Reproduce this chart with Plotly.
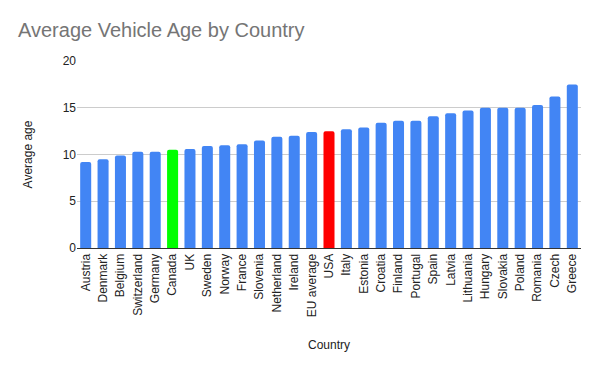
import plotly.graph_objects as go

countries = ["Austria", "Denmark", "Belgium", "Switzerland", "Germany", "Canada", "UK",
             "Sweden", "Norway", "France", "Slovenia", "Netherland", "Ireland", "EU average",
             "USA", "Italy", "Estonia", "Croatia", "Finland", "Portugal", "Spain", "Latvia",
             "Lithuania", "Hungary", "Slovakia", "Poland", "Romania", "Czech", "Greece"]
average_age = [9.2, 9.5, 9.9, 10.3, 10.3, 10.5, 10.6,
               10.9, 11.0, 11.1, 11.5, 11.9, 12.0, 12.4,
               12.5, 12.7, 12.9, 13.4, 13.6, 13.6, 14.1, 14.4,
               14.7, 15.0, 15.0, 15.0, 15.3, 16.2, 17.5]

highlight = {"Canada": "#00ff00", "USA": "#ff0000"}
colors = [highlight.get(c, "#4285f4") for c in countries]

fig = go.Figure(go.Bar(x=countries, y=average_age,
                       marker=dict(color=colors, cornerradius=2, line=dict(width=0))))

fig.update_layout(
    width=600, height=371,
    margin=dict(l=77, r=19, t=61, b=123, autoexpand=False),
    paper_bgcolor="white", plot_bgcolor="white",
    font=dict(family="Arial, Liberation Sans, sans-serif", size=12, color="#222222"),
    title=dict(text="Average Vehicle Age by Country", x=18 / 600, xref="container", xanchor="left",
               y=1 - 30 / 371, yref="container", yanchor="middle",
               font=dict(size=20, color="#757575")),
    bargap=0.366,
    showlegend=False,
)

fig.update_xaxes(tickangle=-90, showgrid=False, showline=True, linecolor="#333333", linewidth=1,
                 ticks="", automargin=False,
                 title=dict(text="Country", standoff=24, font=dict(size=12, color="#222222")))
fig.update_yaxes(range=[0, 20], tickvals=[0, 5, 10, 15, 20], showgrid=True, gridcolor="#cccccc",
                 zeroline=False, showline=False, ticks="", automargin=False,
                 title=dict(text="Average age", standoff=27, font=dict(size=12, color="#222222")))

fig.write_html("out.html", config={"displayModeBar": False},
               post_script="document.body.style.margin='0';document.body.style.padding='0';")
